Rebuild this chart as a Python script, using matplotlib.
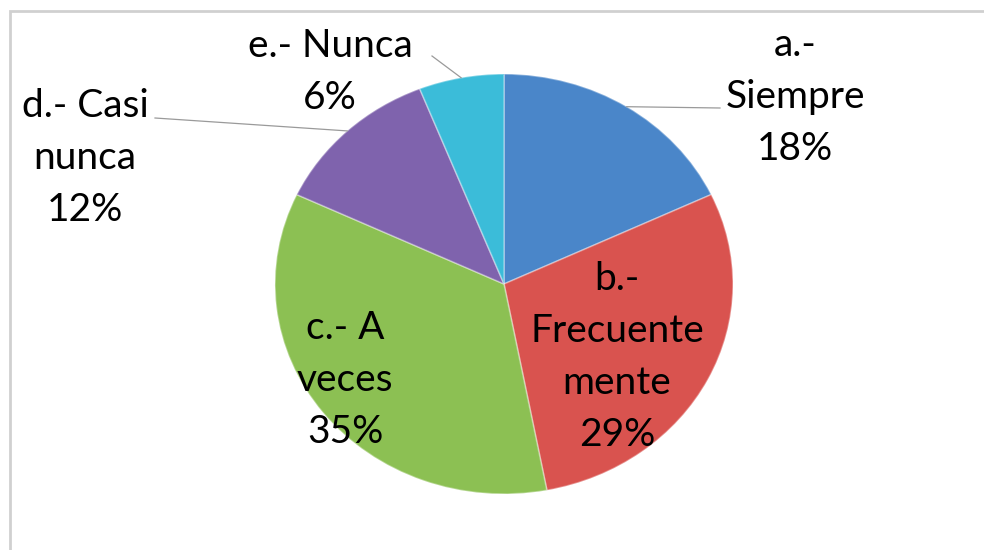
import matplotlib
matplotlib.use("Agg")
import matplotlib.pyplot as plt
from matplotlib.patches import Rectangle
import numpy as np

labels = ["a.-\nSiempre", "b.-\nFrecuente\nmente", "c.- A\nveces", "d.- Casi\nnunca", "e.- Nunca"]
values = [18, 29, 35, 12, 6]
colors = ["#4A86C9", "#D9534F", "#8CC053", "#7F63AD", "#3BBCD9"]

W, H = 984, 550
cx, cy = 504, 284
rx, ry = 229, 210

fig = plt.figure(figsize=(W / 100, H / 100), dpi=100)
ax = fig.add_axes([0, 0, 1, 1])

wedges, _ = ax.pie(values, colors=colors, startangle=90, counterclock=False,
                   radius=1, center=(0, 0),
                   wedgeprops=dict(edgecolor=(1, 1, 1, 0.35), linewidth=1.2))
ax.set_aspect("auto")
ax.set_xlim((0 - cx) / rx, (W - cx) / rx)
ax.set_ylim((cy - H) / ry, (cy - 0) / ry)
ax.axis("off")

def px(x, y):
    return ((x - cx) / rx, (cy - y) / ry)

# label positions in pixel coordinates (centre of text block)
label_pos = [(795, 97), (617, 357), (345, 380), (85, 158), (330, 72)]
font = dict(family=["Lato", "DejaVu Sans"], fontsize=28, color="black",
            ha="center", va="center", linespacing=1.55)
for lab, v, (x, y) in zip(labels, values, label_pos):
    ax.text(*px(x, y), f"{lab}\n{v}%", **font)

# leader lines (from label to slice arc midpoint)
cum = 0
mids = []
for v in values:
    ang = np.deg2rad(90 - (cum + v / 2) * 3.6)
    mids.append((np.cos(ang), np.sin(ang)))
    cum += v
leaders = {0: (720, 108), 3: (155, 118), 4: (432, 56)}
for i, (lx, ly) in leaders.items():
    mx, my = mids[i]
    p = px(lx, ly)
    ax.plot([p[0], mx], [p[1], my], color="#9a9a9a", lw=0.9, zorder=1)

# chart frame (right and bottom edges lie outside the image)
fig.patches.append(Rectangle((10 / W, -0.1), 1.2, 1.1 - 11 / H, transform=fig.transFigure,
                             fill=False, edgecolor="#d0d0d0", lw=2.0))

fig.savefig("out.png", dpi=100, facecolor="white")
